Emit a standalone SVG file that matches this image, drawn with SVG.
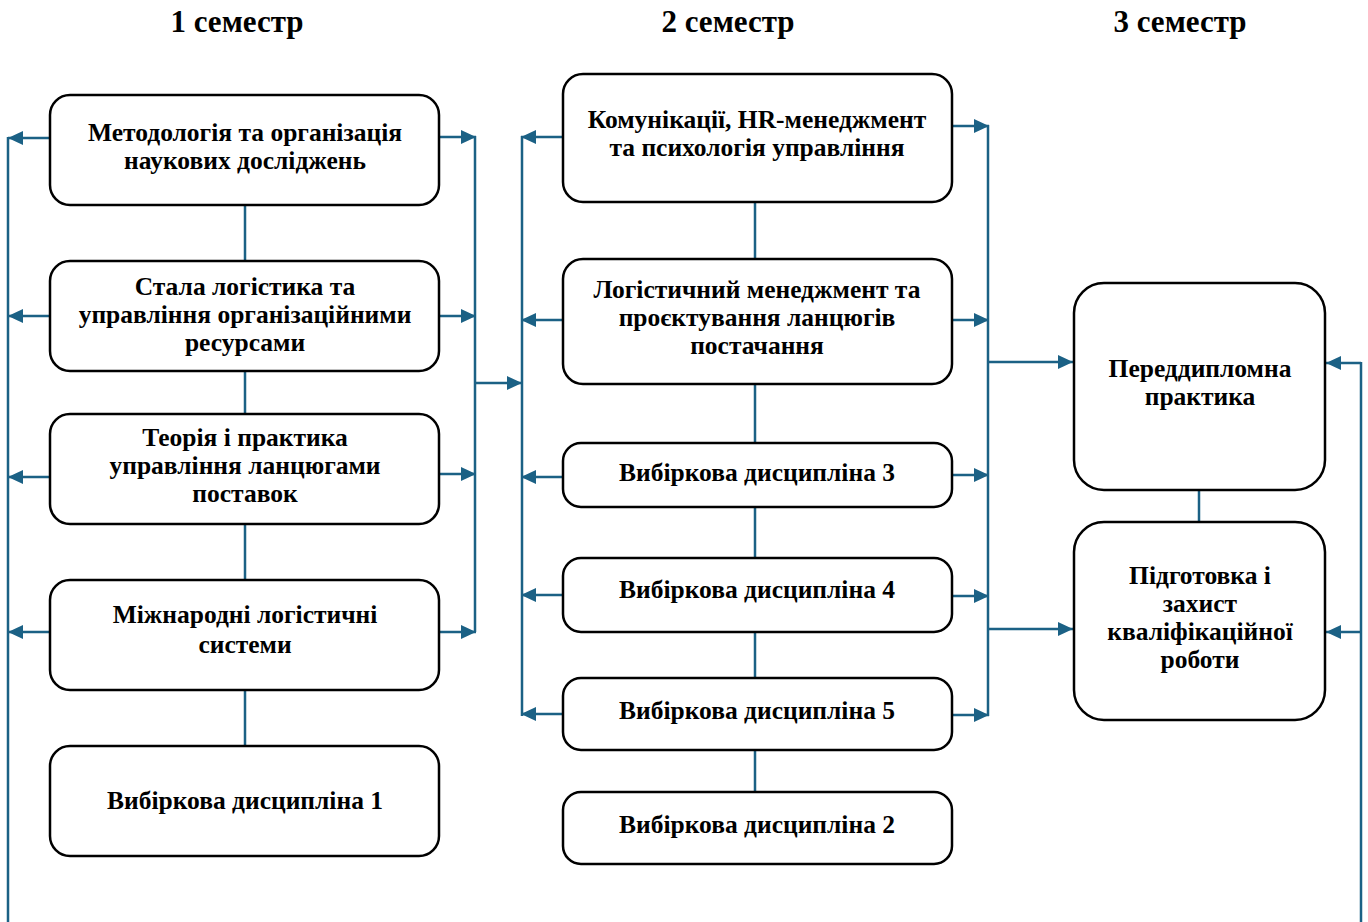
<svg xmlns="http://www.w3.org/2000/svg" width="1368" height="922" viewBox="0 0 1368 922">
<style>
.box{fill:#fff;stroke:#000;stroke-width:2.5}
.t{font-family:"Liberation Serif","Times New Roman",serif;font-weight:bold;font-size:25.5px;text-anchor:middle;fill:#000}
.h{font-family:"Liberation Serif","Times New Roman",serif;font-weight:bold;font-size:31px;text-anchor:middle;fill:#000}
.c{stroke:#1b6185;stroke-width:2.5;fill:none}
.a{stroke:#1b6185;stroke-width:2.5;fill:none;marker-end:url(#ah)}
</style>
<defs>
<marker id="ah" markerUnits="userSpaceOnUse" markerWidth="16" markerHeight="14" refX="15" refY="7" orient="auto">
<path d="M0,0 L15,7 L0,14 Z" fill="#1b6185"/>
</marker>
</defs>
<g id="headers">
<text class="h" x="237" y="32">1 семестр</text>
<text class="h" x="728" y="32">2 семестр</text>
<text class="h" x="1180" y="32">3 семестр</text>
</g>
<g id="connectors">
<line class="c" x1="245" y1="205" x2="245" y2="746"/>
<line class="c" x1="755" y1="202" x2="755" y2="792"/>
<line class="c" x1="1199" y1="490" x2="1199" y2="522"/>
<line class="c" x1="8" y1="137" x2="8" y2="922"/>
<line class="a" x1="50" y1="138" x2="8" y2="138"/>
<line class="a" x1="50" y1="316" x2="8" y2="316"/>
<line class="a" x1="50" y1="477" x2="8" y2="477"/>
<line class="a" x1="50" y1="632" x2="8" y2="632"/>
<line class="c" x1="475" y1="136" x2="475" y2="632"/>
<line class="a" x1="439" y1="137" x2="476" y2="137"/>
<line class="a" x1="439" y1="316" x2="476" y2="316"/>
<line class="a" x1="439" y1="474" x2="476" y2="474"/>
<line class="a" x1="439" y1="632" x2="476" y2="632"/>
<line class="a" x1="475" y1="383" x2="522" y2="383"/>
<line class="c" x1="522" y1="136" x2="522" y2="716"/>
<line class="a" x1="563" y1="137" x2="521" y2="137"/>
<line class="a" x1="563" y1="320" x2="521" y2="320"/>
<line class="a" x1="563" y1="477" x2="521" y2="477"/>
<line class="a" x1="563" y1="595" x2="521" y2="595"/>
<line class="a" x1="563" y1="714" x2="521" y2="714"/>
<line class="c" x1="988" y1="125" x2="988" y2="716"/>
<line class="a" x1="952" y1="126" x2="989" y2="126"/>
<line class="a" x1="952" y1="320" x2="989" y2="320"/>
<line class="a" x1="952" y1="475" x2="989" y2="475"/>
<line class="a" x1="952" y1="596" x2="989" y2="596"/>
<line class="a" x1="952" y1="715" x2="989" y2="715"/>
<line class="a" x1="988" y1="362" x2="1073" y2="362"/>
<line class="a" x1="988" y1="629" x2="1073" y2="629"/>
<line class="c" x1="1361" y1="362" x2="1361" y2="922"/>
<line class="a" x1="1361" y1="363" x2="1326" y2="363"/>
<line class="a" x1="1361" y1="632" x2="1326" y2="632"/>
</g>
<g id="n1">
<rect class="box" x="50" y="95" width="389" height="110" rx="20"/>
<text class="t" x="245" y="141">Методологія та організація</text>
<text class="t" x="245" y="169">наукових досліджень</text>
</g>
<g id="n2">
<rect class="box" x="50" y="261" width="389" height="110" rx="20"/>
<text class="t" x="245" y="295">Стала логістика та</text>
<text class="t" x="245" y="323">управління організаційними</text>
<text class="t" x="245" y="351">ресурсами</text>
</g>
<g id="n3">
<rect class="box" x="50" y="414" width="389" height="110" rx="20"/>
<text class="t" x="245" y="446">Теорія і практика</text>
<text class="t" x="245" y="474">управління ланцюгами</text>
<text class="t" x="245" y="502">поставок</text>
</g>
<g id="n4">
<rect class="box" x="50" y="580" width="389" height="110" rx="20"/>
<text class="t" x="245" y="623">Міжнародні логістичні</text>
<text class="t" x="245" y="653">системи</text>
</g>
<g id="n5">
<rect class="box" x="50" y="746" width="389" height="110" rx="20"/>
<text class="t" x="245" y="809">Вибіркова дисципліна 1</text>
</g>
<g id="m1">
<rect class="box" x="563" y="74" width="389" height="128" rx="20"/>
<text class="t" x="757" y="128">Комунікації, HR-менеджмент</text>
<text class="t" x="757" y="156">та психологія управління</text>
</g>
<g id="m2">
<rect class="box" x="563" y="259" width="389" height="125" rx="20"/>
<text class="t" x="757" y="298">Логістичний менеджмент та</text>
<text class="t" x="757" y="326">проєктування ланцюгів</text>
<text class="t" x="757" y="354">постачання</text>
</g>
<g id="m3">
<rect class="box" x="563" y="443" width="389" height="64" rx="18"/>
<text class="t" x="757" y="481">Вибіркова дисципліна 3</text>
</g>
<g id="m4">
<rect class="box" x="563" y="558" width="389" height="74" rx="18"/>
<text class="t" x="757" y="598">Вибіркова дисципліна 4</text>
</g>
<g id="m5">
<rect class="box" x="563" y="678" width="389" height="72" rx="18"/>
<text class="t" x="757" y="719">Вибіркова дисципліна 5</text>
</g>
<g id="m6">
<rect class="box" x="563" y="792" width="389" height="72" rx="18"/>
<text class="t" x="757" y="833">Вибіркова дисципліна 2</text>
</g>
<g id="r1">
<rect class="box" x="1074" y="283" width="251" height="207" rx="30"/>
<text class="t" x="1200" y="377">Переддипломна</text>
<text class="t" x="1200" y="405">практика</text>
</g>
<g id="r2">
<rect class="box" x="1074" y="522" width="251" height="198" rx="30"/>
<text class="t" x="1200" y="584">Підготовка і</text>
<text class="t" x="1200" y="612">захист</text>
<text class="t" x="1200" y="640">кваліфікаційної</text>
<text class="t" x="1200" y="668">роботи</text>
</g>
</svg>
